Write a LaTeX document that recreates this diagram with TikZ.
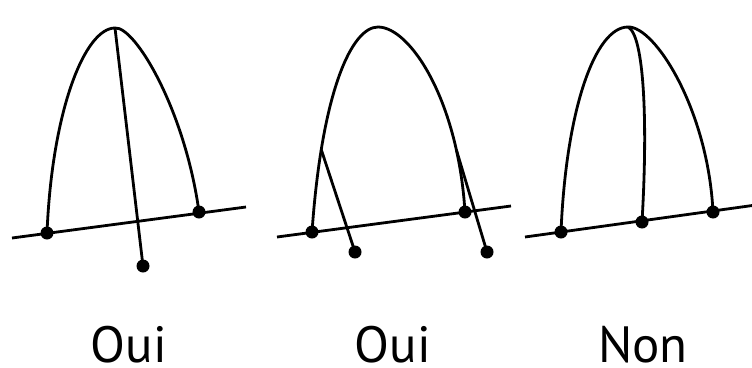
\documentclass[tikz,border=0pt]{standalone}
\usepackage{fontspec}
\setmainfont{PT Sans}
\begin{document}
\begin{tikzpicture}[x=1pt, y=-1pt, line width=2.8pt,
  dot/.style={circle, fill=black, inner sep=0pt, minimum size=13pt},
  verdict/.style={anchor=base, inner sep=0pt, font=\fontsize{51}{60}\selectfont}]
\useasboundingbox (0,0) rectangle (752,367);
\coordinate (a1) at (115,28);
\coordinate (b1w) at (12,238);
\coordinate (b1e) at (246,207);
\node[dot] (l1) at (47,233) {};
\node[dot] (r1) at (199,212) {};
\node[dot] (p1) at (143,266) {};
\draw (b1w) -- (b1e);
\draw (l1.center) .. controls (52,110) and (85,28) .. (a1);
\draw (a1) .. controls (135,26) and (185,110) .. (r1.center);
\draw (a1) -- (p1.center);
\node[verdict] (t1) at (129,362) {Oui};
\coordinate (a2) at (378,27);
\coordinate (b2w) at (277,237);
\coordinate (b2e) at (511,206);
\node[dot] (l2) at (312,232) {};
\node[dot] (r2) at (465,212) {};
\node[dot] (p2l) at (355,252) {};
\node[dot] (p2r) at (487,252) {};
\draw (b2w) -- (b2e);
\draw (l2.center) .. controls (322,90) and (352,27) .. coordinate[pos=0.22] (s2l) (a2);
\draw (a2) .. controls (410,27) and (458,100) .. coordinate[pos=0.8] (s2r) (r2.center);
\draw (s2l) -- (p2l.center);
\draw (s2r) -- (p2r.center);
\node[verdict] (t2) at (393,362) {Oui};
\coordinate (a3) at (628,27);
\coordinate (b3w) at (525,237);
\coordinate (b3e) at (756,205);
\node[dot] (l3) at (561,232) {};
\node[dot] (m3) at (642,222) {};
\node[dot] (r3) at (713,212) {};
\draw (b3w) -- (b3e);
\draw (l3.center) .. controls (566,110) and (595,27) .. (a3);
\draw (a3) .. controls (655,26) and (708,110) .. (r3.center);
\draw (a3) .. controls (644,35) and (648,120) .. (m3.center);
\node[verdict] (t3) at (643,362) {Non};
\end{tikzpicture}
\end{document}
